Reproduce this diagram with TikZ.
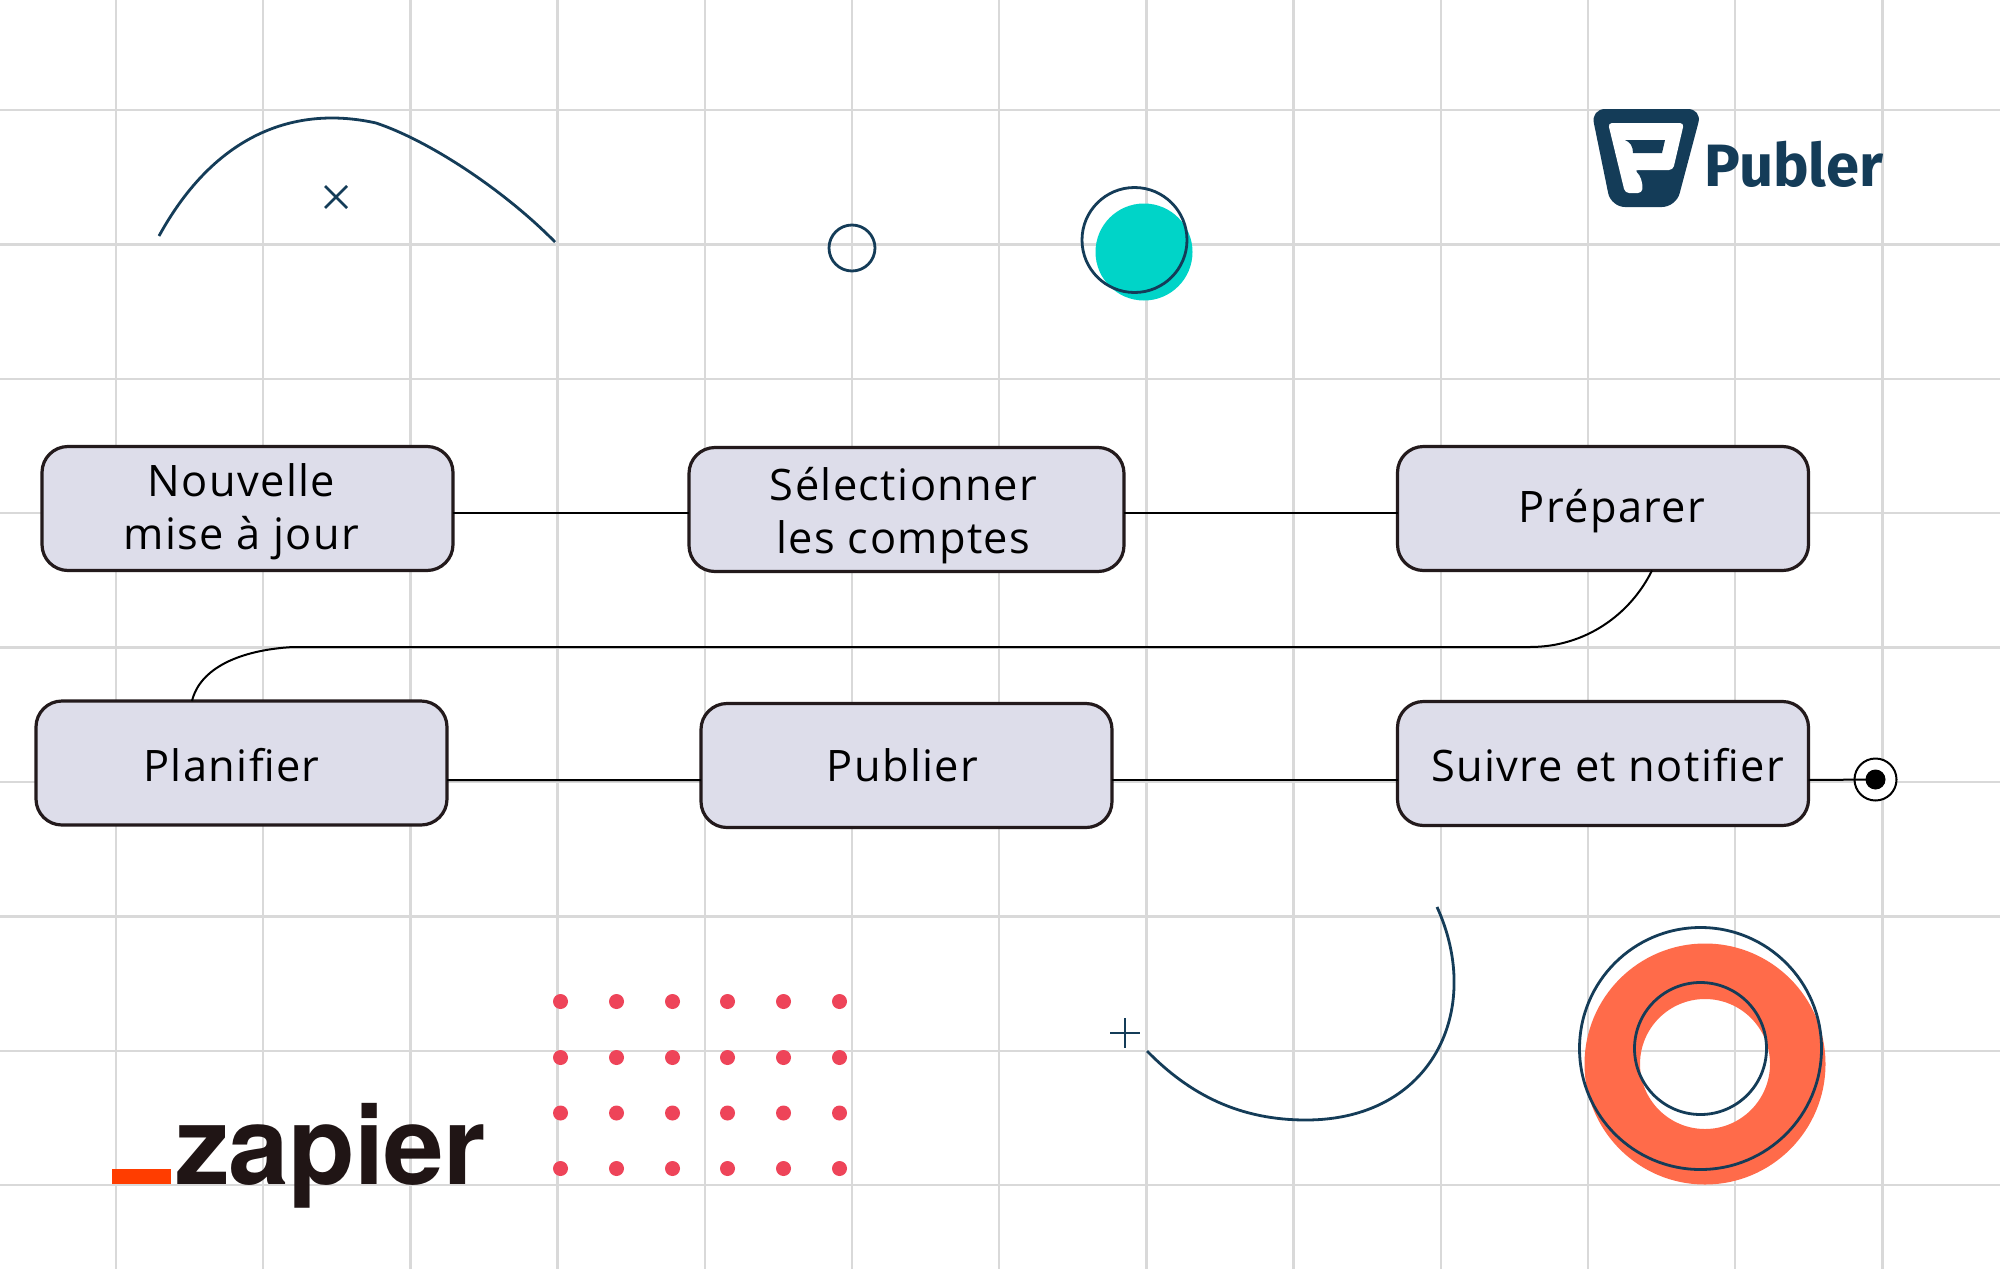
\documentclass[tikz,border=0pt]{standalone}
\usepackage{fontspec}
\setmainfont{Open Sans}
\newfontfamily\lab[LetterSpace=3.2]{Open Sans}
\newfontfamily\pub{Fira Sans}
\newfontfamily\zap[LetterSpace=-0.8]{TeX Gyre Heros}
\def\px{0.05cm}
% dx, dy (px, from box centre to text centre-line / baseline)
\newcommand\lbl[3]{\makebox[0pt]{\hspace{\dimexpr2\dimexpr#1pt*142264/100000\relax\relax}\raisebox{\dimexpr-#2pt*142264/100000\relax}[0pt][0pt]{#3}}}
\newcommand\two[2]{\begin{tabular}[b]{@{}c@{}}#1\\#2\end{tabular}}
\definecolor{navy}{HTML}{143C58}
\definecolor{gridc}{HTML}{D9D9D9}
\definecolor{boxfill}{HTML}{DDDDEA}
\definecolor{boxline}{HTML}{231A1C}
\definecolor{teal}{HTML}{00D4C8}
\definecolor{coral}{HTML}{FF6B4A}
\definecolor{dotc}{HTML}{EE4459}
\definecolor{zapred}{HTML}{FF3D00}
\definecolor{zapink}{HTML}{201515}
\tikzset{
  gridline/.style={gridc,line width=2.3*\px},
  stepbox/.style={draw=boxline,fill=boxfill,line width=3.2*\px,rounded corners=26*\px,
    inner sep=0pt,outer sep=0pt,minimum height=124*\px,text height=0pt,text depth=0pt,
    font=\fontsize{61.7pt}{75pt}\selectfont\lab,text=black},
  flow/.style={black,line width=2*\px},
  accent/.style={navy,line width=2.8*\px},
  reddot/.style={circle,fill=dotc,inner sep=0pt,minimum size=15*\px},
}
\begin{document}
\begin{tikzpicture}[x=\px,y=-\px]
\useasboundingbox (0,0) rectangle (2000,1269);
\fill[white] (0,0) rectangle (2000,1269);
% grid
\foreach \i in {0,...,12} \draw[gridline] ({116+147.2*\i},0) -- ({116+147.2*\i},1269);
\foreach \i in {0,...,8} \draw[gridline] (0,{110+134.4*\i}) -- (2000,{110+134.4*\i});
% decorations top
\draw[accent] (159,236) .. controls (215,134) and (295,105) .. (376,123) .. controls (430,141) and (505,191) .. (555,242);
\draw[accent] (325,186) -- (347,208) (347,186) -- (325,208);
\node[circle,draw=navy,line width=2.8*\px,minimum size=46*\px,inner sep=0pt] (smallc) at (852,248) {};
\fill[teal] (1144,252) circle (48.5);
\node[circle,draw=navy,line width=2.8*\px,minimum size=105*\px,inner sep=0pt] (tealc) at (1134.5,240) {};
% Publer logo
\fill[navy,rounded corners=14*\px] (1591,109) -- (1702,109) -- (1676,207) -- (1611,207) -- cycle;
\fill[white,rounded corners=4*\px] (1608,123) -- (1684,123) -- (1673,170) -- (1634,170)
  .. controls (1640,175) and (1643,182) .. (1642,193) -- (1625,193) -- cycle;
\fill[navy] (1625,140) -- (1665,140) -- (1662,153) -- (1633,153) .. controls (1633,146) and (1630,142) .. (1625,140) -- cycle;
\node[anchor=base west,inner sep=0pt,text=navy,font=\fontsize{85pt}{85pt}\selectfont\pub\bfseries] (publer) at (1704.5,186.5) {Publer};
% boxes
\node[stepbox,minimum width=411*\px] (n1) at (247.5,508.5) {\lbl{-6}{41}{\two{Nouvelle}{mise à jour}}};
\node[stepbox,minimum width=435*\px] (n2) at (906.5,509.5) {\lbl{-3}{44}{\two{Sélectionner}{les comptes}}};
\node[stepbox,minimum width=411*\px] (n3) at (1603,508.5) {\lbl{9}{14}{Préparer}};
\node[stepbox,minimum width=411*\px] (n4) at (241.5,763) {\lbl{-10}{18}{Planifier}};
\node[stepbox,minimum width=411*\px] (n5) at (906.5,765.5) {\lbl{-4}{16}{Publier}};
\node[stepbox,minimum width=411*\px] (n6) at (1603,763.5) {\lbl{4.5}{18}{Suivre et notifier}};
% end marker
\node[circle,draw=black,fill=white,line width=2*\px,minimum size=42*\px,inner sep=0pt] (endo) at (1875.5,779.5) {};
% connectors
\draw[flow] ([yshift=-4.5*\px]n1.east) -- ([yshift=-3.5*\px]n2.west);
\draw[flow] ([yshift=-3.5*\px]n2.east) -- ([yshift=-4.5*\px]n3.west);
\draw[flow] ([xshift=49*\px]n3.south) .. controls (1630,615) and (1585,647) .. (1530,647) -- (293,647) .. controls (240,650) and (200,668) .. ([xshift=-49.5*\px]n4.north);
\draw[flow] ([yshift=-17*\px]n4.east) -- ([yshift=-14.5*\px]n5.west);
\draw[flow] ([yshift=-14.5*\px]n5.east) -- ([yshift=-16.5*\px]n6.west);
\draw[flow] ([yshift=-16.5*\px]n6.east) -- (endo.center);
\node[circle,fill=black,minimum size=20*\px,inner sep=0pt] (endi) at (endo.center) {};
% bottom decorations
\foreach \x in {560.5,616.5,672.5,727.5,783.5,839.5} \foreach \y in {1001.5,1057.5,1113,1168.5}
  \node[reddot] at (\x,\y) {};
\draw[accent] (1437,907) .. controls (1484,1010) and (1432,1120) .. (1306,1120) .. controls (1240,1120) and (1190,1095) .. (1147,1051);
\draw[accent] (1110,1033) -- (1140,1033) (1125,1018) -- (1125,1048);
\fill[coral,even odd rule] (1705,1064) circle (120.5) (1705,1064) circle (65);
\node[circle,draw=navy,line width=2.8*\px,minimum size=242*\px,inner sep=0pt] (ringo) at (1700.5,1048.5) {};
\node[circle,draw=navy,line width=2.8*\px,minimum size=132*\px,inner sep=0pt] (ringi) at (1700.5,1048.5) {};
% zapier logo
\fill[zapred] (112,1169) rectangle (171,1184);
\node[anchor=base west,inner sep=0pt,text=zapink,font=\fontsize{155pt}{155pt}\selectfont\zap\bfseries] (zapier) at (175,1184) {zapier};
\end{tikzpicture}
\end{document}
